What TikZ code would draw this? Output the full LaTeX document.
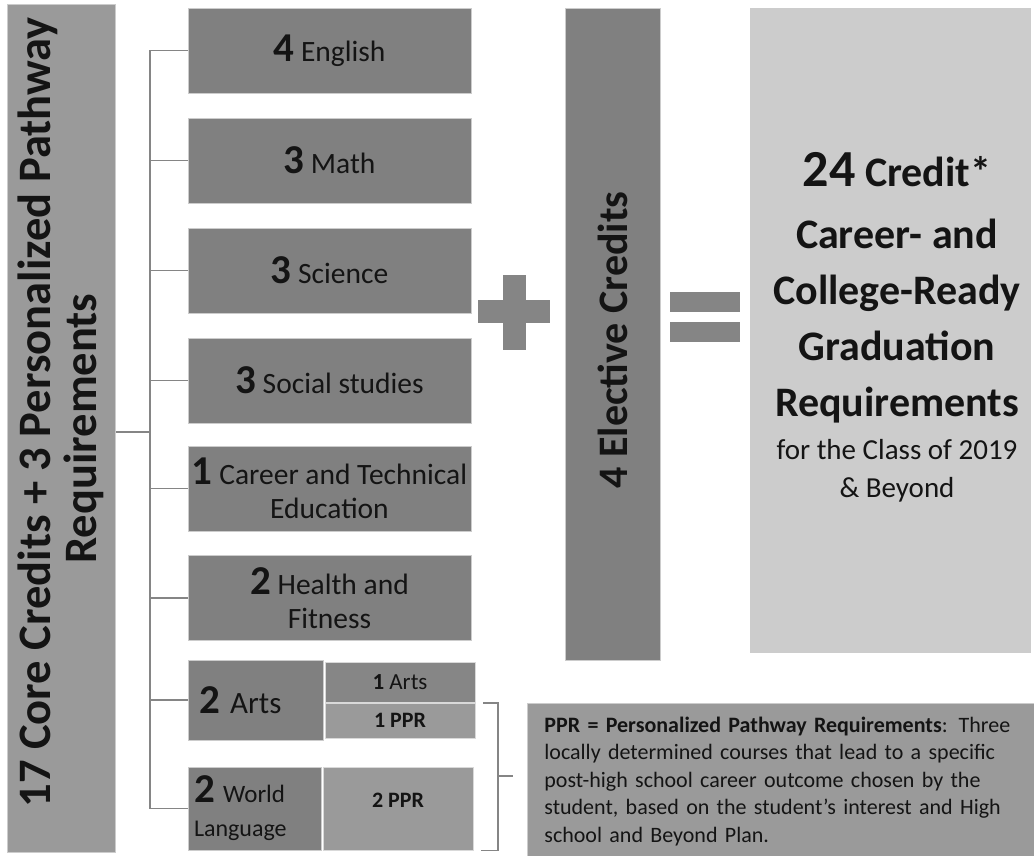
\documentclass[tikz,border=0pt]{standalone}
\usepackage{fontspec}
\setmainfont{Carlito}
\usetikzlibrary{positioning, calc}

\definecolor{boxdark}{HTML}{808080}
\definecolor{boxmid}{HTML}{9A9A9A}
\definecolor{boxlight}{HTML}{CCCCCC}
\definecolor{ink}{HTML}{141414}
\definecolor{linegray}{HTML}{858585}

\newcommand{\bignum}[1]{{\fontsize{41}{41}\selectfont\bfseries #1}}

\tikzset{
  course/.style={draw=white!80!black, line width=0.8pt, fill=boxdark, minimum width=283pt, minimum height=85pt,
    inner sep=2pt, align=center, text=ink, font=\fontsize{29.5}{34}\selectfont},
  splitbox/.style={draw=white!85!black, line width=0.8pt, fill=boxmid, minimum width=150pt, inner sep=1pt,
    text=ink, font=\fontsize{23}{25}\selectfont},
  link/.style={draw=linegray, line width=1.8pt},
  symbol/.style={fill=linegray}
}

\begin{document}
\begin{tikzpicture}[x=1pt,y=-1pt]
\useasboundingbox (0,0) rectangle (1034,856);

% core requirements
\node[course, fill=boxmid, minimum width=108pt, minimum height=848pt] (core) at (61.5,428.5) {};
\node[rotate=90, align=center, text=ink, font=\fontsize{46.5}{46}\selectfont\bfseries] (coretext) at ([xshift=-1pt]core.center)
  {\hspace*{32pt}17 Core Credits + 3 Personalized Pathway\\Requirements};

\node[course] (english) at (329.5,50.5) {\bignum{4} English};
\node[course] (math) at (329.5,160.5) {\bignum{3} Math};
\node[course] (science) at (329.5,270.5) {\bignum{3} Science};
\node[course] (social) at (329.5,380.5) {\bignum{3} Social studies};
\node[course] (cte) at (329.5,488.5) {\bignum{1} Career and Technical\\Education};
\node[course] (health) at (329.5,598) {\bignum{2} Health and\\Fitness};

% arts and world language
\node[course, minimum width=135pt, minimum height=80pt, align=left, inner xsep=11pt, text width=113pt,
  font=\fontsize{31}{34}\selectfont] (arts) at (255.5,700) {\bignum{2} Arts};
\node[splitbox, fill=boxdark!95!white, minimum height=40pt] (arts1) at (400,682) {\textbf{1} Arts};
\node[splitbox, minimum height=35pt, font=\fontsize{22}{24}\selectfont\bfseries] (ppr1) at (400,720.5) {1 PPR};
\node[course, minimum width=133pt, minimum height=83pt, align=left, inner xsep=6pt, text width=121pt,
  font=\fontsize{25}{34}\selectfont] (world) at (254.5,808.5)
  {\bignum{2} World\\{\fontsize{24}{24}\selectfont Language}};
\node[splitbox, minimum width=150pt, minimum height=83pt, font=\fontsize{22}{24}\selectfont\bfseries] (ppr2) at (398,808.5)
  {\raisebox{16pt}{2 PPR}};

% electives and result
\node[course, minimum width=95pt, minimum height=652pt] (elective) at (612.5,334) {};
\node[rotate=90, text=ink, font=\fontsize{42}{42}\selectfont\bfseries] (electivetext) at ([yshift=-6pt]elective.center)
  {4 Elective Credits};

\node[course, fill=boxlight, minimum width=280pt, minimum height=644pt] (result) at (890,330) {};
\node[align=center, text=ink, font=\fontsize{42}{56}\selectfont\bfseries] (resulttext) at (897,327)
  {{\fontsize{52}{52}\selectfont 24} Credit*\\[6pt]Career- and\\College-Ready\\Graduation\\Requirements\\[-13pt]
   {\fontsize{29}{38}\selectfont\mdseries for the Class of 2019}\\[-18pt]{\fontsize{29}{38}\selectfont\mdseries \& Beyond}};

% plus and equals
\fill[symbol] (478,300) rectangle (550,323);
\fill[symbol] (503,275) rectangle (526,350);
\fill[symbol] (670,292) rectangle (740,312);
\fill[symbol] (670,322) rectangle (740,342);

% note on PPR
\node[course, fill=boxmid, anchor=north west, minimum width=510pt, minimum height=156pt, align=left,
  inner xsep=17pt, text width=490pt, font=\fontsize{22}{27.5}\selectfont] (note) at (527,703)
  {\textbf{PPR = Personalized Pathway Requirements}: Three\\
   locally determined courses that lead to a specific\\
   post-high school career outcome chosen by the\\
   student, based on the student’s interest and High\\
   school and Beyond Plan.};

% connectors
\coordinate (trunk) at (150,432);
\draw[link] (core.east |- trunk) -- (trunk);
\draw[link] (english.west -| trunk) -- (world.west -| trunk);
\foreach \c in {english,math,science,social,cte,health,arts,world}
  \draw[link] (\c.west -| trunk) -- (\c.west);

\coordinate (brk) at (498,776);
\draw[link] ([xshift=8pt]ppr1.north east) -| (brk |- world.south) -- ([xshift=8pt]ppr2.east |- world.south);
\draw[link] (brk) -- ++(15,0);
\end{tikzpicture}
\end{document}
